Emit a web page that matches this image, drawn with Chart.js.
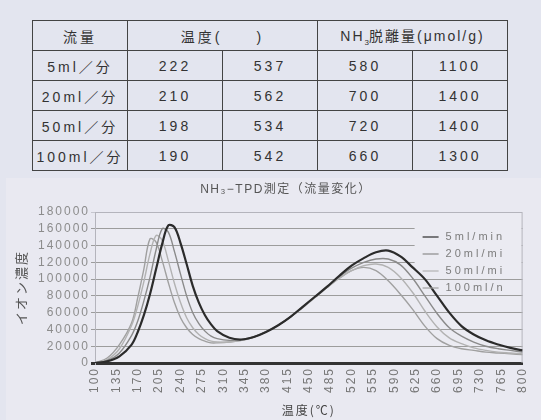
<!DOCTYPE html>
<html>
<head>
<meta charset="utf-8">
<script src="https://cdn.jsdelivr.net/npm/chart.js@4.4.1/dist/chart.umd.min.js"></script>
<style>
  body { margin: 0; width: 541px; height: 420px; background: #e3e5ef; position: relative; overflow: hidden;
         font-family: "Liberation Sans", "Noto Sans CJK JP", sans-serif; }
  table { position: absolute; left: 32px; top: 20px; border-collapse: collapse; table-layout: fixed; width: 476px; }
  td { border: 1px solid #444; height: 29px; padding: 0; text-align: center; white-space: nowrap;
       font-size: 14px; letter-spacing: 3px; color: #333; }
  td.h { letter-spacing: 2px; }
  td sub { font-size: 8px; letter-spacing: 0; }
  #panel { position: absolute; left: 6px; top: 178px; width: 535px; height: 242px; background: #e9e9f1; }
  #chart { position: absolute; left: 0; top: 178px; }
</style>
</head>
<body>
<table>
  <colgroup><col style="width:95px"><col style="width:95px"><col style="width:95px"><col style="width:95px"><col style="width:95px"></colgroup>
  <tr><td>流量</td><td colspan="2">温度(　　)</td><td colspan="2" class="h">NH<sub>3</sub>脱離量(μmol/g)</td></tr>
  <tr><td>5ml／分</td><td>222</td><td>537</td><td>580</td><td>1100</td></tr>
  <tr><td>20ml／分</td><td>210</td><td>562</td><td>700</td><td>1400</td></tr>
  <tr><td>50ml／分</td><td>198</td><td>534</td><td>720</td><td>1400</td></tr>
  <tr><td>100ml／分</td><td>190</td><td>542</td><td>660</td><td>1300</td></tr>
</table>
<div id="panel"></div>
<canvas id="chart" width="541" height="242"></canvas>
<script>
const temps = [100, 120, 140, 160, 170, 180, 190, 200, 210, 220, 230, 240, 250, 260, 270, 280, 290, 300,
  320, 340, 360, 380, 400, 420, 440, 460, 480, 500, 520, 540, 560, 580, 600, 620, 640, 660, 680, 700,
  720, 740, 760, 780, 800];
const flow5 = [0, 2000, 8000, 22000, 37000, 57000, 82000, 112000, 142000, 164000, 162000, 143000, 118000,
  92000, 72000, 57000, 46000, 38000, 30000, 28000, 31000, 37000, 45000, 55000, 67000, 79000, 91000, 104000,
  116000, 125000, 132000, 134000, 127000, 114000, 100000, 80000, 60000, 44000, 34000, 27000, 22000, 18000, 15000];
const flow20 = [0, 3000, 12000, 33000, 50000, 74000, 102000, 135000, 160000, 156000, 133000, 106000, 80000,
  60000, 47000, 38000, 32000, 29000, 27000, 28000, 31000, 37000, 45000, 55000, 67000, 79000, 91000, 103000,
  113000, 120000, 124000, 124000, 117000, 101000, 80000, 59000, 42000, 32000, 25000, 20000, 17000, 15000, 13000];
const flow50 = [0, 4000, 17000, 45000, 68000, 97000, 130000, 152000, 146000, 122000, 95000, 72000, 54000,
  42000, 34000, 29000, 26000, 25000, 25000, 27000, 31000, 37000, 45000, 55000, 66000, 78000, 90000, 101000,
  110000, 116000, 118000, 114000, 102000, 84000, 62000, 43000, 30000, 23000, 18000, 15000, 13000, 12000, 11000];
const flow100 = [0, 6000, 22000, 48000, 78000, 112000, 148000, 144000, 122000, 96000, 72000, 54000, 42000,
  34000, 29000, 26000, 24000, 24000, 25000, 27000, 31000, 37000, 45000, 55000, 66000, 78000, 90000, 101000,
  110000, 114000, 110000, 98000, 82000, 64000, 44000, 29000, 21000, 17000, 15000, 13000, 12000, 11000, 10000];
const seriesLabels = ["5ml/min", "20ml/mi", "50ml/mi", "100ml/n"];
const xTicks = [100, 135, 170, 205, 240, 275, 310, 345, 380, 415, 450, 485, 520, 555, 590, 625, 660, 695, 730, 765, 800];

const colors = ["#2b2b2b", "#8a8a8a", "#b2b2b2", "#a0a0a0"];
const widths = [2.2, 1.4, 1.4, 1.4];

const pts = arr => arr.map((v, i) => ({ x: temps[i], y: v }));

const frame = {
  id: "frame",
  beforeDraw(chart) {
    const { ctx, chartArea: a } = chart;
    ctx.letterSpacing = "2px";
    ctx.save();
    ctx.fillStyle = "#ebebf2";
    ctx.fillRect(a.left, a.top, a.right - a.left, a.bottom - a.top);
    ctx.restore();
  },
  beforeDatasetsDraw(chart) {
    const { ctx, chartArea: a } = chart;
    ctx.save();
    // legend box hides the grid behind it
    ctx.fillStyle = "#ebebf2";
    ctx.fillRect(a.right - 108, a.top + 10, 107, 52);
    ctx.strokeStyle = "#b4b4bc";
    ctx.lineWidth = 1;
    ctx.beginPath();
    ctx.moveTo(a.left + 0.5, a.bottom);
    ctx.lineTo(a.left + 0.5, a.top + 0.5);
    ctx.lineTo(a.right - 0.5, a.top + 0.5);
    ctx.lineTo(a.right - 0.5, a.bottom);
    ctx.stroke();
    ctx.restore();
  },
  afterDraw(chart) {
    const { ctx, chartArea: a } = chart;
    ctx.save();
    // title
    ctx.letterSpacing = "1.5px";
    ctx.fillStyle = "#555";
    ctx.font = '12px "Liberation Sans", "Noto Sans CJK JP", sans-serif';
    ctx.textAlign = "center";
    ctx.textBaseline = "middle";
    ctx.fillText("NH₃−TPD測定（流量変化）", 286, 12);
    // legend
    ctx.letterSpacing = "3px";
    ctx.font = '11px "Liberation Sans", "Noto Sans CJK JP", sans-serif';
    ctx.textAlign = "left";
    chart.data.datasets.forEach((ds, i) => {
      const y = a.top + 25 + i * 17;
      ctx.strokeStyle = ds.borderColor;
      ctx.lineWidth = 1.2;
      ctx.beginPath();
      ctx.moveTo(a.right - 100, y);
      ctx.lineTo(a.right - 84, y);
      ctx.stroke();
      ctx.fillStyle = "#7c7c7c";
      ctx.fillText(ds.label, a.right - 77, y);
    });
    ctx.restore();
  }
};

new Chart(document.getElementById("chart"), {
  type: "line",
  data: {
    datasets: [flow5, flow20, flow50, flow100].map((arr, i) => ({
      label: seriesLabels[i],
      data: pts(arr),
      borderColor: colors[i],
      borderWidth: widths[i],
      pointRadius: 0,
      tension: 0.35,
      fill: false
    }))
  },
  options: {
    responsive: false,
    animation: false,
    layout: { padding: { left: 0, right: 14, top: 34, bottom: 2 } },
    plugins: { legend: { display: false }, title: { display: false }, tooltip: { enabled: false } },
    scales: {
      x: {
        type: "linear",
        min: 100,
        max: 800,
        afterBuildTicks: s => { s.ticks = xTicks.map(v => ({ value: v })); },
        afterFit: s => { s.height = 55; },
        grid: { display: false, drawTicks: false },
        border: { display: true, color: "#333", width: 3 },
        ticks: {
          autoSkip: false, minRotation: 90, maxRotation: 90, padding: 4,
          color: "#777", font: { family: "Liberation Sans", size: 12 }
        },
        title: {
          display: true, text: "温度(℃)", color: "#444",
          font: { family: "'Noto Sans CJK JP'", size: 12 }, padding: { top: 0, bottom: 0 }
        }
      },
      y: {
        min: 0,
        max: 180000,
        afterFit: s => { s.width = 95; },
        grid: {
          color: c => c.tick.value === 0 ? "#333" : (c.tick.value === 180000 ? "#c6c6ce" : "#9c9c9c"),
          lineWidth: c => c.tick.value === 0 ? 3 : 1,
          tickLength: 4
        },
        border: { display: true, color: "#b4b4bc", width: 1 },
        ticks: {
          stepSize: 20000, autoSkip: false, padding: 1, color: "#8c8c8c",
          font: { family: "Liberation Sans", size: 12 },
          callback: v => String(v)
        },
        title: {
          display: true, text: "イオン濃度", color: "#555",
          font: { family: "'Noto Sans CJK JP'", size: 13 }, padding: { top: 13, bottom: 0 }
        }
      }
    }
  },
  plugins: [frame]
});
</script>
</body>
</html>
